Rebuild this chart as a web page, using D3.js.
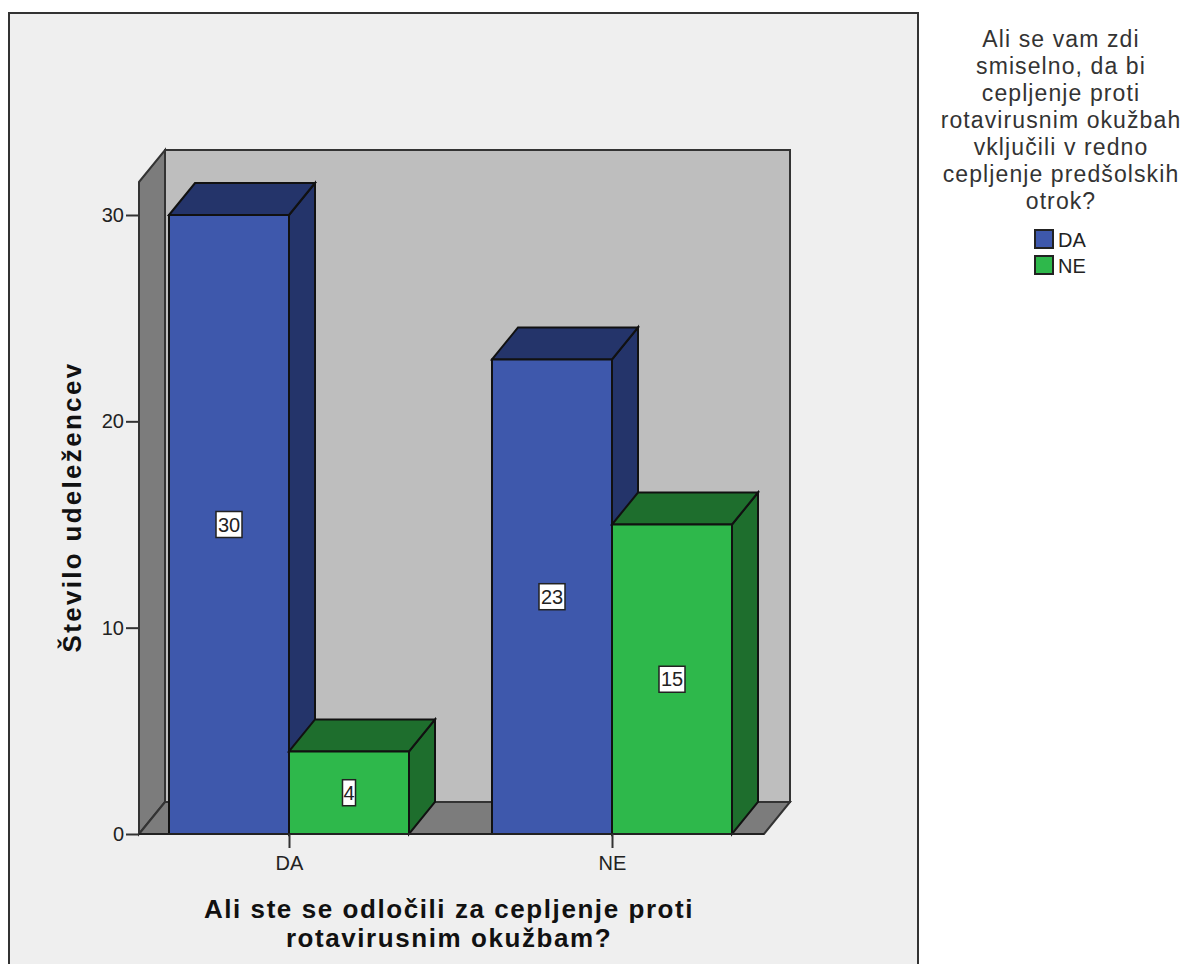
<!DOCTYPE html>
<html>
<head>
<meta charset="utf-8">
<script src="https://cdn.jsdelivr.net/npm/d3@7"></script>
<style>
	html, body { margin: 0; padding: 0; background: #fff; overflow: hidden; }
	svg { display: block; }
	text { font-family: "Liberation Sans", Arial, sans-serif; fill: #222; }
	.axis-title { font-weight: bold; font-size: 26px; letter-spacing: 1.57px; fill: #111; }
	.tick-label { font-size: 20px; }
</style>
</head>
<body>
<svg width="1185" height="964"></svg>
<script>
var categories = ["DA", "NE"];
var seriesNames = ["DA", "NE"];
var valuesDA = [30, 23];
var valuesNE = [4, 15];
var yTicks = [0, 10, 20, 30];
var legendTitle = ["Ali se vam zdi", "smiselno, da bi", "cepljenje proti", "rotavirusnim okužbah", "vključili v redno", "cepljenje predšolskih", "otrok?"];
var xTitle = ["Ali ste se odločili za cepljenje proti", "rotavirusnim okužbam?"];
var yTitle = "Število udeležencev";

var colors = {
	DA: { front: "#3e58ac", top: "#24346a", side: "#24346a" },
	NE: { front: "#2eb84b", top: "#1e6e2d", side: "#1e6e2d" }
};
var edge = "#111";

var svg = d3.select("svg");

// 3d offset of the back wall
var depthX = 26, depthY = -32;
var left = 139, right = 764, barWidth = 120;

var y = d3.scaleLinear().domain([0, 30]).range([834, 215]);
var x = d3.scalePoint().domain(categories).range([289, 612]);
var top3d = y(30) - 33;

function poly(points, fill, stroke, width){
	return svg.append("polygon")
		.attr("points", points.map(function(p){return p.join(",")}).join(" "))
		.attr("fill", fill)
		.attr("stroke", stroke)
		.attr("stroke-width", width)
		.attr("stroke-linejoin", "miter");
}

// outer panel, runs off the bottom of the page
svg.append("rect")
	.attr("x", 9).attr("y", 13)
	.attr("width", 909).attr("height", 970)
	.attr("fill", "#efefef")
	.attr("stroke", "#333")
	.attr("stroke-width", 2);

// walls and floor of the box
poly([[left + depthX, top3d + depthY], [right + depthX, top3d + depthY], [right + depthX, y(0) + depthY], [left + depthX, y(0) + depthY]], "#bebebe", "#333", 2);
poly([[left, top3d], [left + depthX, top3d + depthY], [left + depthX, y(0) + depthY], [left, y(0)]], "#7c7c7c", "#333", 2);
poly([[left, y(0)], [left + depthX, y(0) + depthY], [right + depthX, y(0) + depthY], [right, y(0)]], "#7c7c7c", "#333", 2);

function drawBar(x0, value, c){
	var yv = y(value), y0 = y(0), x1 = x0 + barWidth;
	poly([[x1, yv], [x1 + depthX, yv + depthY], [x1 + depthX, y0 + depthY], [x1, y0]], c.side, edge, 2);
	poly([[x0, yv], [x0 + depthX, yv + depthY], [x1 + depthX, yv + depthY], [x1, yv]], c.top, edge, 2);
	poly([[x0, yv], [x1, yv], [x1, y0], [x0, y0]], c.front, edge, 2);
}

function drawLabel(cx, value){
	var cy = y(value / 2);
	var txt = String(value);
	var w = txt.length > 1 ? 26 : 13;
	svg.append("rect")
		.attr("x", cx - w / 2).attr("y", cy - 13)
		.attr("width", w).attr("height", 26)
		.attr("fill", "#fff")
		.attr("stroke", "#222")
		.attr("stroke-width", 1.5);
	svg.append("text")
		.attr("class", "tick-label")
		.attr("x", cx).attr("y", cy + 7)
		.attr("text-anchor", "middle")
		.text(txt);
}

categories.forEach(function(cat, i){
	var cx = x(cat);
	drawBar(cx - barWidth, valuesDA[i], colors.DA);
	drawBar(cx, valuesNE[i], colors.NE);
});
categories.forEach(function(cat, i){
	var cx = x(cat);
	drawLabel(cx - barWidth / 2, valuesDA[i]);
	drawLabel(cx + barWidth / 2, valuesNE[i]);
});

// axes
var yAxis = svg.append("g")
	.attr("transform", "translate(" + left + ",0)")
	.call(d3.axisLeft(y).tickValues(yTicks).tickSize(13).tickPadding(2));
var xAxis = svg.append("g")
	.attr("transform", "translate(0," + y(0) + ")")
	.call(d3.axisBottom(x).tickSize(14).tickPadding(8));
yAxis.select(".domain").attr("stroke", "#333").attr("stroke-width", 2).attr("d", "M0," + y(0) + "V" + top3d);
xAxis.select(".domain").attr("stroke", "#222").attr("stroke-width", 2).attr("d", "M" + left + ",0H" + right);
svg.selectAll(".tick line").attr("stroke", "#333").attr("stroke-width", 2);
svg.selectAll(".tick text")
	.attr("class", "tick-label")
	.attr("fill", null)
	.style("font-family", "'Liberation Sans', Arial, sans-serif")
	.style("font-size", "20px");

// axis titles
svg.append("text")
	.attr("class", "axis-title")
	.attr("transform", "translate(81,507) rotate(-90)")
	.attr("text-anchor", "middle")
	.style("letter-spacing", "2.3px")
	.text(yTitle);

svg.selectAll(".x-title")
	.data(xTitle)
	.enter().append("text")
	.attr("class", "axis-title x-title")
	.attr("x", 449)
	.attr("y", function(d, i){return 918 + i * 29})
	.attr("text-anchor", "middle")
	.text(function(d){return d});

// legend
svg.selectAll(".legend-title")
	.data(legendTitle)
	.enter().append("text")
	.attr("class", "legend-title")
	.attr("x", 1061)
	.attr("y", function(d, i){return 47 + i * 27})
	.attr("text-anchor", "middle")
	.style("font-size", "23px")
	.style("letter-spacing", "1.1px")
	.style("fill", "#333")
	.text(function(d){return d});

seriesNames.forEach(function(name, i){
	svg.append("rect")
		.attr("x", 1035).attr("y", 230 + i * 26)
		.attr("width", 18).attr("height", 18)
		.attr("fill", colors[name].front)
		.attr("stroke", "#222")
		.attr("stroke-width", 2);
	svg.append("text")
		.attr("x", 1058).attr("y", 247 + i * 26)
		.style("font-size", "20px")
		.text(name);
});
</script>
</body>
</html>
